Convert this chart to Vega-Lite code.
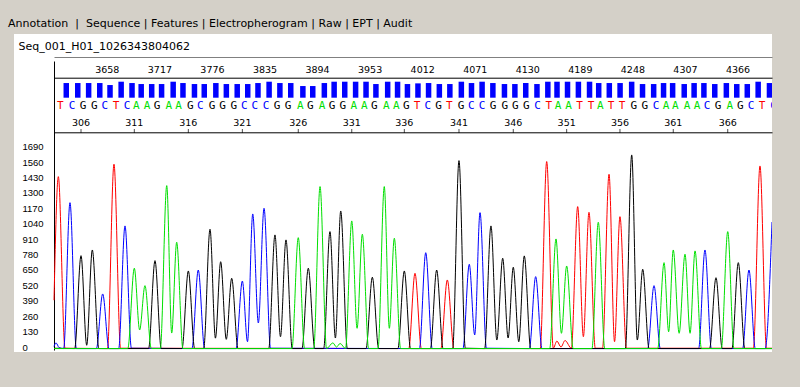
{
  "$schema": "https://vega.github.io/schema/vega-lite/v6.json",
  "autosize": {"type": "none"},
  "width": 758,
  "height": 318,
  "padding": {"left": 14, "top": 34, "right": 28, "bottom": 35},
  "background": "#d4d0c8",
  "config": {"view": {"fill": "#ffffff", "stroke": null}, "axis": {"grid": false}},
  "title": {
    "text": "Annotation\u00a0\u00a0|\u00a0\u00a0Sequence\u00a0|\u00a0Features\u00a0|\u00a0Electropherogram\u00a0|\u00a0Raw\u00a0|\u00a0EPT\u00a0|\u00a0Audit",
    "subtitle": "\u200b\u00a0\u00a0\u00a0Seq_001_H01_1026343804062",
    "anchor": "start",
    "frame": "group",
    "orient": "top",
    "dx": -6,
    "offset": -18,
    "font": "DejaVu Sans",
    "fontSize": 11,
    "fontWeight": "normal",
    "color": "#000000",
    "subtitleFont": "DejaVu Sans",
    "subtitleFontSize": 11,
    "subtitleColor": "#000000",
    "subtitlePadding": 12
  },
  "datasets": {
    "traces": [
      {"b":"T","s":3604.3,"v":420},{"b":"T","s":3609.1,"v":1463},{"b":"T","s":3616.5,"v":15},{"b":"T","s":3663.5,"v":12},{"b":"T","s":3670.7,"v":1568},{"b":"T","s":3678,"v":15},{"b":"T","s":3997,"v":12},{"b":"T","s":4003.9,"v":647},{"b":"T","s":4011,"v":12},{"b":"T","s":4032.5,"v":12},{"b":"T","s":4039.7,"v":591},{"b":"T","s":4047,"v":12},{"b":"T","s":4142.5,"v":12},{"b":"T","s":4149.7,"v":1590},{"b":"T","s":4157,"v":15},{"b":"T","s":4161,"v":75},{"b":"T","s":4165.5,"v":25},{"b":"T","s":4170,"v":80},{"b":"T","s":4177,"v":15},{"b":"T","s":4184,"v":1210},{"b":"T","s":4190.3,"v":112},{"b":"T","s":4196.5,"v":1162},{"b":"T","s":4203.5,"v":15},{"b":"T","s":4211.5,"v":15},{"b":"T","s":4218.7,"v":1483},{"b":"T","s":4224.8,"v":70},{"b":"T","s":4230.8,"v":1125},{"b":"T","s":4238,"v":15},{"b":"T","s":4378.5,"v":15},{"b":"T","s":4385.8,"v":1553},{"b":"T","s":4393,"v":15},{"b":"T","s":4399.1,"v":15},
      {"b":"C","s":3604.3,"v":30},{"b":"C","s":3606.5,"v":60},{"b":"C","s":3610,"v":20},{"b":"C","s":3615,"v":12},{"b":"C","s":3622,"v":1243},{"b":"C","s":3629,"v":12},{"b":"C","s":3651.2,"v":12},{"b":"C","s":3658.2,"v":473},{"b":"C","s":3665.2,"v":12},{"b":"C","s":3675.9,"v":12},{"b":"C","s":3682.9,"v":1047},{"b":"C","s":3690,"v":15},{"b":"C","s":3757,"v":12},{"b":"C","s":3764,"v":675},{"b":"C","s":3771,"v":12},{"b":"C","s":3805.8,"v":12},{"b":"C","s":3812.8,"v":582},{"b":"C","s":3818.5,"v":70},{"b":"C","s":3824.3,"v":1148},{"b":"C","s":3830.5,"v":228},{"b":"C","s":3836.8,"v":1196},{"b":"C","s":3844,"v":15},{"b":"C","s":4008.8,"v":12},{"b":"C","s":4015.8,"v":821},{"b":"C","s":4023,"v":12},{"b":"C","s":4057,"v":12},{"b":"C","s":4064,"v":723},{"b":"C","s":4070,"v":127},{"b":"C","s":4075.9,"v":1159},{"b":"C","s":4083,"v":15},{"b":"C","s":4130.5,"v":12},{"b":"C","s":4137.5,"v":619},{"b":"C","s":4144.5,"v":12},{"b":"C","s":4261.5,"v":12},{"b":"C","s":4268.5,"v":543},{"b":"C","s":4275.5,"v":12},{"b":"C","s":4317.9,"v":12},{"b":"C","s":4324.9,"v":844},{"b":"C","s":4332,"v":12},{"b":"C","s":4366.6,"v":12},{"b":"C","s":4373.6,"v":675},{"b":"C","s":4380.6,"v":12},{"b":"C","s":4391.5,"v":12},{"b":"C","s":4399.1,"v":1080},
      {"b":"G","s":3604.3,"v":15},{"b":"G","s":3627.2,"v":12},{"b":"G","s":3634.2,"v":796},{"b":"G","s":3640.5,"v":40},{"b":"G","s":3646.7,"v":844},{"b":"G","s":3654,"v":12},{"b":"G","s":3709,"v":12},{"b":"G","s":3716.1,"v":754},{"b":"G","s":3723,"v":12},{"b":"G","s":3746,"v":12},{"b":"G","s":3753,"v":667},{"b":"G","s":3760,"v":12},{"b":"G","s":3770,"v":12},{"b":"G","s":3777,"v":1019},{"b":"G","s":3783,"v":100},{"b":"G","s":3788.8,"v":745},{"b":"G","s":3795,"v":90},{"b":"G","s":3801,"v":605},{"b":"G","s":3808,"v":12},{"b":"G","s":3842,"v":12},{"b":"G","s":3848.9,"v":971},{"b":"G","s":3855,"v":112},{"b":"G","s":3861.1,"v":929},{"b":"G","s":3868,"v":12},{"b":"G","s":3878.8,"v":12},{"b":"G","s":3885.8,"v":690},{"b":"G","s":3893,"v":12},{"b":"G","s":3902.8,"v":12},{"b":"G","s":3909.8,"v":999},{"b":"G","s":3915.8,"v":101},{"b":"G","s":3921.7,"v":1173},{"b":"G","s":3929,"v":12},{"b":"G","s":3949.7,"v":12},{"b":"G","s":3956.7,"v":614},{"b":"G","s":3963.7,"v":12},{"b":"G","s":3985,"v":12},{"b":"G","s":3992.1,"v":667},{"b":"G","s":3999,"v":12},{"b":"G","s":4021,"v":12},{"b":"G","s":4027.9,"v":675},{"b":"G","s":4035,"v":12},{"b":"G","s":4045.6,"v":12},{"b":"G","s":4052.6,"v":1598},{"b":"G","s":4059.6,"v":15},{"b":"G","s":4081,"v":12},{"b":"G","s":4088,"v":1047},{"b":"G","s":4094.5,"v":84},{"b":"G","s":4101,"v":774},{"b":"G","s":4107,"v":101},{"b":"G","s":4112.7,"v":698},{"b":"G","s":4118.8,"v":70},{"b":"G","s":4124.9,"v":794},{"b":"G","s":4132,"v":12},{"b":"G","s":4236.8,"v":12},{"b":"G","s":4243.8,"v":1646},{"b":"G","s":4250,"v":84},{"b":"G","s":4256,"v":681},{"b":"G","s":4263,"v":12},{"b":"G","s":4330,"v":12},{"b":"G","s":4337.1,"v":610},{"b":"G","s":4344,"v":12},{"b":"G","s":4354.8,"v":12},{"b":"G","s":4361.8,"v":737},{"b":"G","s":4369,"v":12},{"b":"G","s":4399.1,"v":12},
      {"b":"A","s":3604.3,"v":12},{"b":"A","s":3686,"v":12},{"b":"A","s":3693.2,"v":690},{"b":"A","s":3699.1,"v":169},{"b":"A","s":3705,"v":543},{"b":"A","s":3712,"v":12},{"b":"A","s":3722,"v":12},{"b":"A","s":3729.1,"v":1387},{"b":"A","s":3734.6,"v":143},{"b":"A","s":3740.1,"v":909},{"b":"A","s":3747,"v":12},{"b":"A","s":3867.7,"v":12},{"b":"A","s":3874.7,"v":948},{"b":"A","s":3881.7,"v":12},{"b":"A","s":3891.8,"v":12},{"b":"A","s":3898.8,"v":1379},{"b":"A","s":3906,"v":12},{"b":"A","s":3913,"v":60},{"b":"A","s":3917,"v":25},{"b":"A","s":3921,"v":55},{"b":"A","s":3927,"v":12},{"b":"A","s":3933.9,"v":1089},{"b":"A","s":3939.8,"v":183},{"b":"A","s":3945.6,"v":977},{"b":"A","s":3952.6,"v":12},{"b":"A","s":3963,"v":12},{"b":"A","s":3969.9,"v":1379},{"b":"A","s":3975.5,"v":183},{"b":"A","s":3981,"v":943},{"b":"A","s":3988,"v":12},{"b":"A","s":4153,"v":12},{"b":"A","s":4160,"v":937},{"b":"A","s":4166,"v":141},{"b":"A","s":4171.8,"v":709},{"b":"A","s":4179,"v":12},{"b":"A","s":4199.8,"v":12},{"b":"A","s":4206.8,"v":1078},{"b":"A","s":4214,"v":12},{"b":"A","s":4272.6,"v":12},{"b":"A","s":4279.6,"v":737},{"b":"A","s":4284.7,"v":154},{"b":"A","s":4289.8,"v":844},{"b":"A","s":4296.3,"v":141},{"b":"A","s":4302.8,"v":808},{"b":"A","s":4308.4,"v":141},{"b":"A","s":4313.9,"v":836},{"b":"A","s":4321,"v":12},{"b":"A","s":4343,"v":12},{"b":"A","s":4350.1,"v":999},{"b":"A","s":4357,"v":12},{"b":"A","s":4399.1,"v":12}
    ],
    "bases": [
      {"pos":304,"b":"T","s":3609.1,"q":44},{"pos":305,"b":"C","s":3622.0,"q":44},{"pos":306,"b":"G","s":3634.2,"q":44},{"pos":307,"b":"G","s":3646.7,"q":44},{"pos":308,"b":"C","s":3658.2,"q":38},{"pos":309,"b":"T","s":3670.7,"q":48},{"pos":310,"b":"C","s":3682.9,"q":44},{"pos":311,"b":"A","s":3693.2,"q":41},{"pos":312,"b":"A","s":3705.0,"q":41},{"pos":313,"b":"G","s":3716.1,"q":41},
      {"pos":314,"b":"A","s":3729.1,"q":48},{"pos":315,"b":"A","s":3740.1,"q":44},{"pos":316,"b":"G","s":3753.0,"q":41},{"pos":317,"b":"C","s":3764.0,"q":41},{"pos":318,"b":"G","s":3777.0,"q":44},{"pos":319,"b":"G","s":3788.8,"q":41},{"pos":320,"b":"G","s":3801.0,"q":41},{"pos":321,"b":"C","s":3812.8,"q":41},{"pos":322,"b":"C","s":3824.3,"q":44},{"pos":323,"b":"C","s":3836.8,"q":48},
      {"pos":324,"b":"G","s":3848.9,"q":44},{"pos":325,"b":"G","s":3861.1,"q":44},{"pos":326,"b":"A","s":3874.7,"q":35},{"pos":327,"b":"G","s":3885.8,"q":35},{"pos":328,"b":"A","s":3898.8,"q":44},{"pos":329,"b":"G","s":3909.8,"q":48},{"pos":330,"b":"G","s":3921.7,"q":48},{"pos":331,"b":"A","s":3933.9,"q":48},{"pos":332,"b":"A","s":3945.6,"q":48},{"pos":333,"b":"G","s":3956.7,"q":41},
      {"pos":334,"b":"A","s":3969.9,"q":48},{"pos":335,"b":"A","s":3981.0,"q":48},{"pos":336,"b":"G","s":3992.1,"q":41},{"pos":337,"b":"T","s":4003.9,"q":43},{"pos":338,"b":"C","s":4015.8,"q":44},{"pos":339,"b":"G","s":4027.9,"q":41},{"pos":340,"b":"T","s":4039.7,"q":41},{"pos":341,"b":"G","s":4052.6,"q":48},{"pos":342,"b":"C","s":4064.0,"q":44},{"pos":343,"b":"C","s":4075.9,"q":48},
      {"pos":344,"b":"G","s":4088.0,"q":44},{"pos":345,"b":"G","s":4101.0,"q":41},{"pos":346,"b":"G","s":4112.7,"q":41},{"pos":347,"b":"G","s":4124.9,"q":44},{"pos":348,"b":"C","s":4137.5,"q":41},{"pos":349,"b":"T","s":4149.7,"q":48},{"pos":350,"b":"A","s":4160.0,"q":48},{"pos":351,"b":"A","s":4171.8,"q":48},{"pos":352,"b":"T","s":4184.0,"q":48},{"pos":353,"b":"T","s":4196.5,"q":48},
      {"pos":354,"b":"A","s":4206.8,"q":44},{"pos":355,"b":"T","s":4218.7,"q":44},{"pos":356,"b":"T","s":4230.8,"q":44},{"pos":357,"b":"G","s":4243.8,"q":48},{"pos":358,"b":"G","s":4256.0,"q":41},{"pos":359,"b":"C","s":4268.5,"q":41},{"pos":360,"b":"A","s":4279.6,"q":44},{"pos":361,"b":"A","s":4289.8,"q":44},{"pos":362,"b":"A","s":4302.8,"q":41},{"pos":363,"b":"A","s":4313.9,"q":44},
      {"pos":364,"b":"C","s":4324.9,"q":44},{"pos":365,"b":"G","s":4337.1,"q":41},{"pos":366,"b":"A","s":4350.1,"q":44},{"pos":367,"b":"G","s":4361.8,"q":41},{"pos":368,"b":"C","s":4373.6,"q":41},{"pos":369,"b":"T","s":4385.8,"q":48},{"pos":370,"b":"C","s":4398.5,"q":44}
    ]
  },
  "resolve": {"scale": {"x": "independent", "y": "independent"}, "axis": {"x": "independent", "y": "independent"}},
  "layer": [
    {
      "data": {"name": "traces"},
      "mark": {"type": "line", "interpolate": "monotone", "strokeWidth": 1, "clip": true},
      "encoding": {
        "x": {"field": "s", "type": "quantitative", "scale": {"domain": [3604.3, 4399.1], "range": [40, 758], "nice": false, "zero": false}, "axis": null},
        "y": {"field": "v", "type": "quantitative", "scale": {"domain": [0, 2438.5], "range": [316, 27], "nice": false, "zero": false},
          "axis": {"orient": "left", "offset": -40, "values": [0,130,260,390,520,650,780,910,1040,1170,1300,1430,1560,1690], "format": "d", "ticks": false, "tickSize": 0, "labelAlign": "left", "labelPadding": 32, "labelBaseline": "middle", "labelOffset": -3, "labelFont": "Liberation Sans", "labelFontSize": 9.5, "labelColor": "#000000", "domainColor": "#000000", "domainWidth": 1, "grid": false, "title": null, "labelOverlap": false, "labelFlush": false}},
        "color": {"field": "b", "type": "nominal", "scale": {"domain": ["A","C","G","T"], "range": ["#00e000","#0000ff","#000000","#ff0000"]}, "legend": null}
      }
    },
    {
      "data": {"name": "bases"},
      "mark": {"type": "bar", "width": 5.5, "xOffset": 3, "color": "#0000ff", "clip": true},
      "encoding": {
        "x": {"field": "s", "type": "quantitative", "scale": {"domain": [3604.3, 4399.1], "range": [40, 758], "nice": false, "zero": false},
          "axis": {"orient": "top", "offset": -43.7, "values": [3658,3717,3776,3835,3894,3953,4012,4071,4130,4189,4248,4307,4366], "format": "d", "ticks": false, "tickSize": 0, "labelPadding": 3, "labelFont": "DejaVu Sans", "labelFontSize": 9.5, "labelColor": "#000000", "domainColor": "#000000", "grid": false, "title": null, "labelOverlap": false, "labelFlush": false}},
        "y": {"field": "q", "type": "quantitative", "scale": {"domain": [0, 48], "range": [63.7, 47.7], "nice": false, "zero": true}, "axis": null}
      }
    },
    {
      "data": {"name": "bases"},
      "mark": {"type": "text", "font": "DejaVu Sans Mono", "fontSize": 11, "dx": 2, "baseline": "middle", "align": "center", "clip": true},
      "encoding": {
        "x": {"field": "s", "type": "quantitative", "scale": {"domain": [3604.3, 4399.1], "range": [40, 758], "nice": false, "zero": false},
          "axis": {"orient": "top", "offset": -23, "labels": false, "ticks": false, "domainColor": "#808080", "grid": false, "title": null}},
        "y": {"datum": "letters", "type": "nominal", "scale": {"type": "point", "domain": ["letters","gap","positions","ticks"], "range": [72, 97], "padding": 0}, "axis": null},
        "text": {"field": "b", "type": "nominal"},
        "color": {"field": "b", "type": "nominal", "scale": {"domain": ["A","C","G","T"], "range": ["#00e000","#0000ff","#000000","#ff0000"]}, "legend": null}
      }
    },
    {
      "data": {"name": "bases"},
      "transform": [{"filter": "datum.pos % 5 == 1"}],
      "mark": {"type": "text", "font": "DejaVu Sans", "fontSize": 9.5, "baseline": "middle", "align": "center", "color": "#000000"},
      "encoding": {
        "x": {"field": "s", "type": "quantitative", "scale": {"domain": [3604.3, 4399.1], "range": [40, 758], "nice": false, "zero": false}, "axis": null},
        "y": {"datum": "positions", "type": "nominal", "scale": {"type": "point", "domain": ["letters","gap","positions","ticks"], "range": [72, 97], "padding": 0}, "axis": null},
        "text": {"field": "pos", "type": "quantitative", "format": "d"}
      }
    },
    {
      "data": {"name": "bases"},
      "transform": [{"filter": "datum.pos % 5 == 1"}],
      "mark": {"type": "tick", "orient": "vertical", "size": 4, "thickness": 1, "color": "#000000"},
      "encoding": {
        "x": {"field": "s", "type": "quantitative", "scale": {"domain": [3604.3, 4399.1], "range": [40, 758], "nice": false, "zero": false},
          "axis": {"orient": "top", "offset": -98.3, "labels": false, "ticks": false, "domainColor": "#000000", "grid": false, "title": null}},
        "y": {"datum": "ticks", "type": "nominal", "scale": {"type": "point", "domain": ["letters","gap","positions","ticks"], "range": [72, 97], "padding": 0}, "axis": null}
      }
    }
  ]
}
